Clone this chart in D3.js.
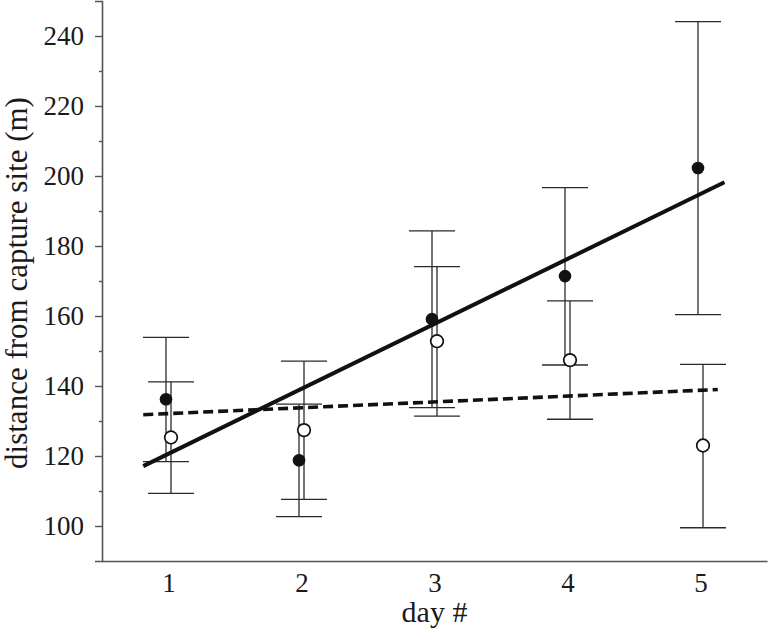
<!DOCTYPE html>
<html>
<head>
<meta charset="utf-8">
<script src="https://cdn.jsdelivr.net/npm/d3@7"></script>
<style>
  body { margin: 0; background: #fff; }
  text { font-family: "Liberation Serif", "DejaVu Serif", serif; fill: #1a1a1a; }
</style>
</head>
<body>
<div id="chart"></div>
<script>
// data
const days = [1, 2, 3, 4, 5];
// filled circles: mean, low, high
const filledMean = [136.2, 118.8, 159.1, 171.4, 202.3];
const filledLow  = [118.4, 102.7, 133.8, 146.0, 160.4];
const filledHigh = [153.9, 134.8, 184.3, 196.7, 244.1];
// open circles: mean, low, high
const openMean = [125.3, 127.4, 152.8, 147.4, 123.0];
const openLow  = [109.3, 107.6, 131.4, 130.5, 99.5];
const openHigh = [141.2, 147.1, 174.1, 164.3, 146.2];
// fitted lines (endpoints, in day units)
const solidLine  = [{day: 0.81, v: 117.1}, {day: 5.18, v: 198.2}];
const dashedLine = [{day: 0.81, v: 131.8}, {day: 5.13, v: 139.0}];
const yTicks = [100, 120, 140, 160, 180, 200, 220, 240];
const yMinor = [110, 130, 150, 170, 190, 210, 230];

const W = 768, H = 629;
const margin = {top: 1, right: 1, bottom: 68, left: 102};

const svg = d3.select("#chart").append("svg")
    .attr("width", W)
    .attr("height", H);

const x = d3.scaleLinear().domain([0.5, 5.5]).range([margin.left, W - margin.right]);
const y = d3.scaleLinear().domain([90, 250]).range([H - margin.bottom, margin.top]);

// axes
const yAxis = d3.axisLeft(y).tickValues(yTicks).tickSize(7).tickPadding(11).tickFormat(d3.format("d"));
const gy = svg.append("g").attr("transform", "translate(" + margin.left + ",0)").call(yAxis);
gy.selectAll(".tick text").style("font-size", "27px").attr("fill", "#1a1a1a");

svg.append("g").attr("transform", "translate(" + margin.left + ",0)")
    .call(d3.axisLeft(y).tickValues(yMinor).tickSize(3).tickFormat(""))
    .select(".domain").remove();

const xAxis = d3.axisBottom(x).tickValues(days).tickSize(0).tickPadding(12).tickFormat(d3.format("d"));
const gx = svg.append("g").attr("transform", "translate(0," + (H - margin.bottom) + ")").call(xAxis);
gx.selectAll(".tick text").style("font-size", "27px").attr("fill", "#1a1a1a");

svg.selectAll(".domain").attr("stroke", "#555").attr("stroke-width", 1.6);
svg.selectAll(".tick line").attr("stroke", "#555").attr("stroke-width", 1.4);

// axis labels
svg.append("text")
    .attr("x", (margin.left + W - margin.right) / 2)
    .attr("y", 622)
    .attr("text-anchor", "middle")
    .style("font-size", "30px")
    .text("day #");

svg.append("text")
    .attr("transform", "translate(27," + ((margin.top + H - margin.bottom) / 2 + 2) + ") rotate(-90)")
    .attr("text-anchor", "middle")
    .style("font-size", "31px")
    .text("distance from capture site (m)");

// error bars
const capHalf = 23;
function errorBars(means, lows, highs, dx) {
    const rows = days.map((d, i) => ({d: d, m: means[i], lo: lows[i], hi: highs[i]}));
    const g = svg.append("g").attr("stroke", "#2a2a2a").attr("stroke-width", 1.3);
    rows.forEach(r => {
        const cx = x(r.d) + dx;
        g.append("line").attr("x1", cx).attr("x2", cx).attr("y1", y(r.hi)).attr("y2", y(r.lo));
        g.append("line").attr("x1", cx - capHalf).attr("x2", cx + capHalf).attr("y1", y(r.hi)).attr("y2", y(r.hi));
        g.append("line").attr("x1", cx - capHalf).attr("x2", cx + capHalf).attr("y1", y(r.lo)).attr("y2", y(r.lo));
    });
    return rows;
}
const filledRows = errorBars(filledMean, filledLow, filledHigh, -2.5);
const openRows = errorBars(openMean, openLow, openHigh, 2.5);

// fitted lines
const line = d3.line().x(d => x(d.day)).y(d => y(d.v));
svg.append("path").datum(solidLine)
    .attr("d", line).attr("fill", "none")
    .attr("stroke", "#111").attr("stroke-width", 4);
svg.append("path").datum(dashedLine)
    .attr("d", line).attr("fill", "none")
    .attr("stroke", "#111").attr("stroke-width", 3.6)
    .attr("stroke-dasharray", "10,5");

// markers
svg.append("g").selectAll("circle").data(filledRows).join("circle")
    .attr("cx", d => x(d.d) - 2.5)
    .attr("cy", d => y(d.m))
    .attr("r", 6.3)
    .attr("fill", "#111");

svg.append("g").selectAll("circle").data(openRows).join("circle")
    .attr("cx", d => x(d.d) + 2.5)
    .attr("cy", d => y(d.m))
    .attr("r", 6.3)
    .attr("fill", "#fff")
    .attr("stroke", "#111")
    .attr("stroke-width", 1.7);
</script>
</body>
</html>
